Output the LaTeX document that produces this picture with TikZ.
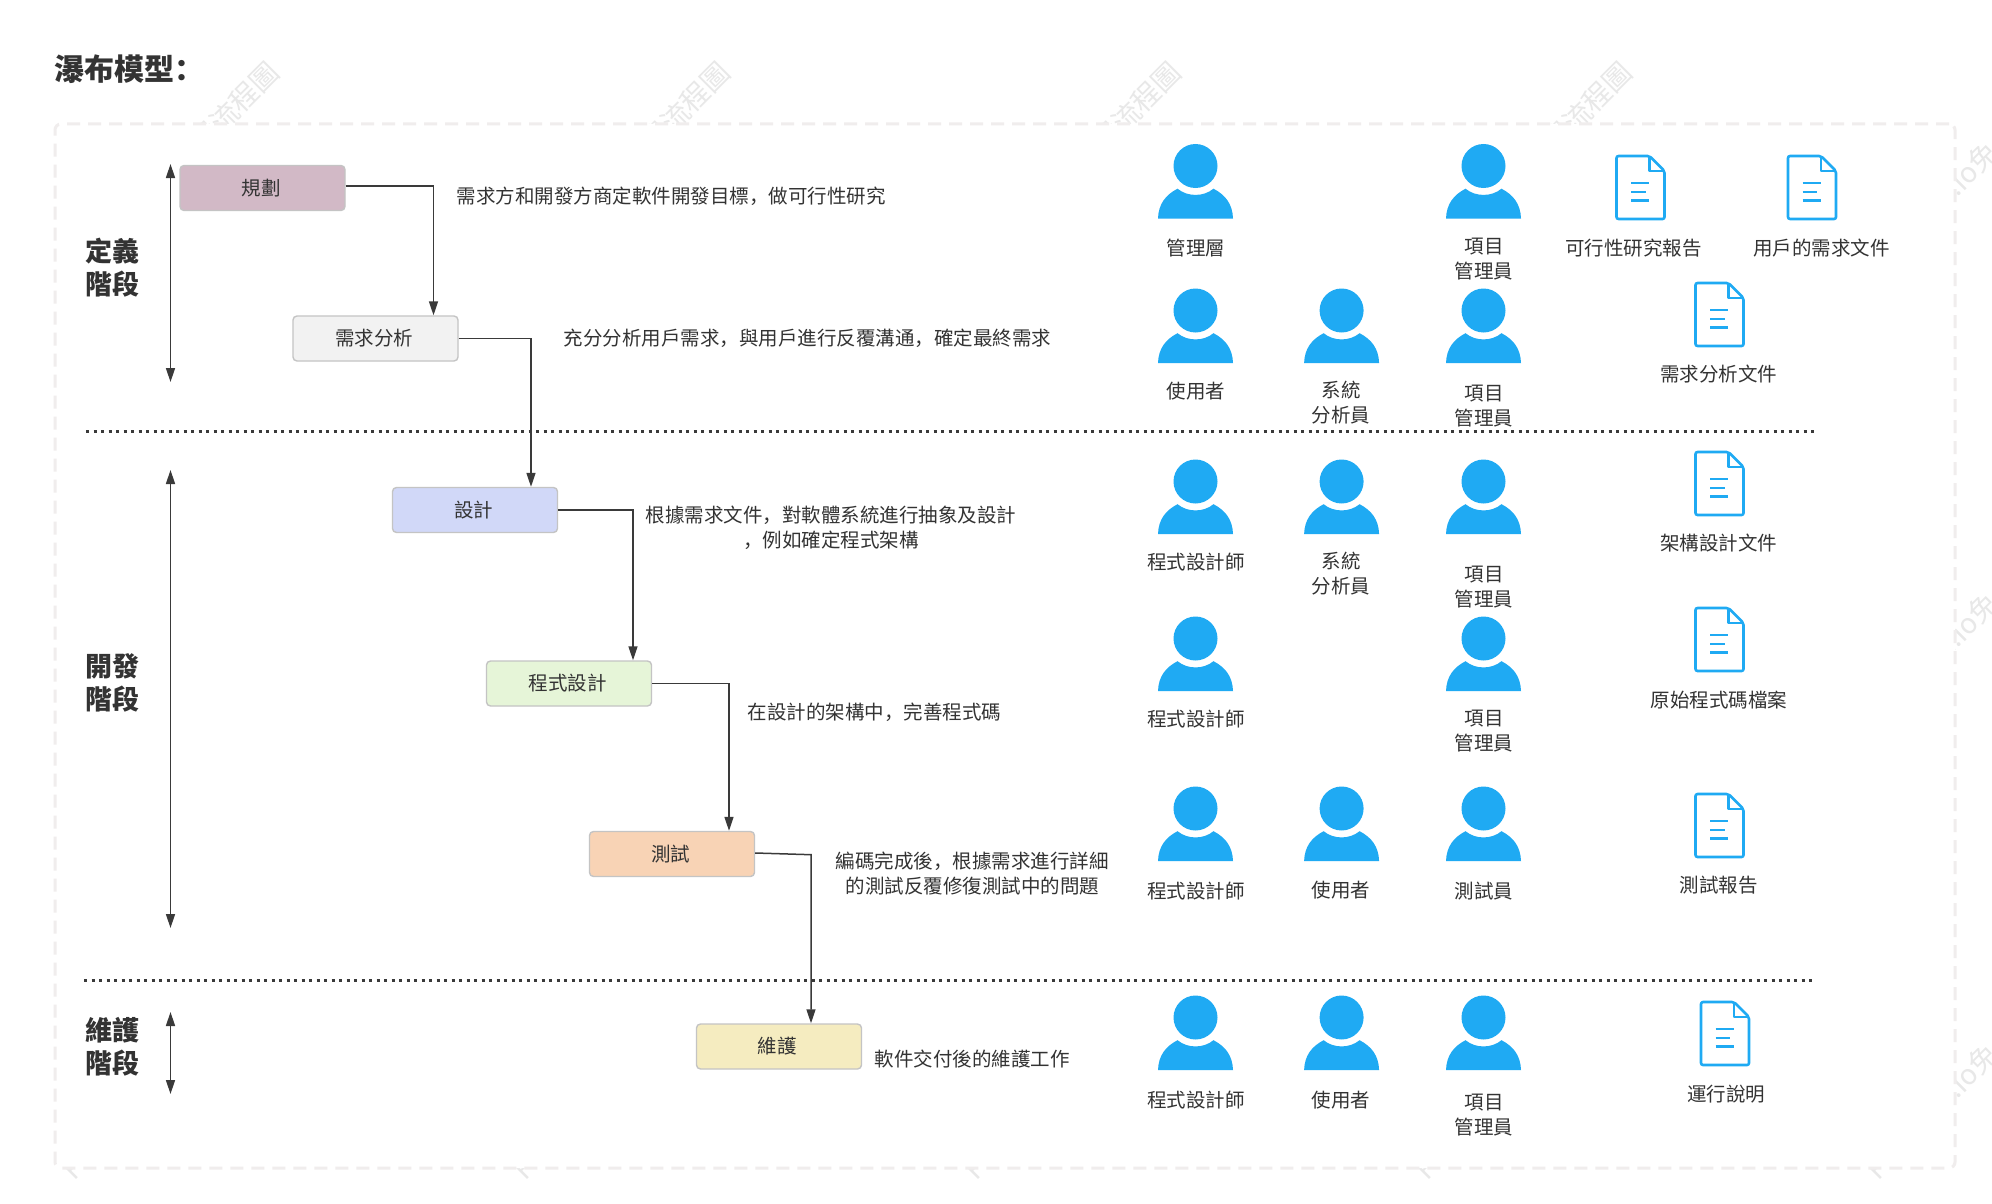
\documentclass[tikz,border=0pt]{standalone}
\usepackage{fontspec}
\setmainfont{Noto Sans CJK SC}
\usetikzlibrary{arrows.meta}
\definecolor{ink}{HTML}{333333}
\definecolor{lineink}{HTML}{3A3A3A}
\definecolor{iconblue}{HTML}{1FAAF3}
\definecolor{framegrey}{HTML}{F0EDED}
\definecolor{markgrey}{HTML}{E8E8E8}
\definecolor{boxedge}{HTML}{C4C4C4}
\definecolor{cplan}{HTML}{D2B9C6}
\definecolor{creq}{HTML}{F2F2F2}
\definecolor{cdsg}{HTML}{D1D8F8}
\definecolor{ccode}{HTML}{E6F5D8}
\definecolor{ctest}{HTML}{F8D3B5}
\definecolor{cmaint}{HTML}{F5ECC0}
\tikzset{
  stagebox/.style={draw=boxedge,line width=1.4pt,rounded corners=4pt,minimum width=165pt,minimum height=45pt,inner sep=0pt,text=ink,font=\fontsize{19.5}{24}\selectfont},
  conn/.style={draw=lineink,line width=1.5pt,-{Triangle[length=14pt,width=9pt]}},
  spanline/.style={draw=lineink,line width=1.5pt,{Triangle[length=14pt,width=9pt]}-{Triangle[length=14pt,width=9pt]}},
  divider/.style={draw=lineink,line width=3pt,dash pattern=on 3pt off 4.5pt},
  lab/.style={text=ink,align=center,inner sep=0pt,font=\fontsize{19.5}{25}\selectfont},
  stagelab/.style={text=ink,align=center,inner sep=0pt,font=\fontsize{27}{33.5}\selectfont\bfseries},
  wmark/.style={text=markgrey,inner sep=0pt,rotate=45,font=\fontsize{28}{28}\selectfont},
  person/.pic={
    \fill[iconblue] (0,22) circle (22pt);
    \fill[iconblue] (-37.5,74.5) .. controls (-37,60) and (-30,51) .. (-18,44.7)
      .. controls (-8,53) and (8,53) .. (18,44.7)
      .. controls (30,51) and (37,60) .. (37.5,74.5) -- cycle;
  },
  docicon/.pic={
    \draw[iconblue,line width=2.6pt,rounded corners=2pt,line join=round] (-24,0) -- (9,0) -- (24,15) -- (24,63) -- (-24,63) -- cycle;
    \draw[iconblue,line width=2.4pt,line join=round] (9,0) -- (9,15) -- (24,15);
    \draw[iconblue,line width=2.4pt] (-9.5,27) -- (8.5,27) (-9.5,36) -- (5,36) (-9.5,44.5) -- (8.5,44.5);
  }
}
\begin{document}
\begin{tikzpicture}[x=1pt,y=-1pt]
\useasboundingbox (0,0) rectangle (1992,1204);
\fill[white] (0,0) rectangle (1992,1204);

% watermarks: only their parts outside the frame show
\foreach \i/\x in {1/274,2/725,3/1176,4/1627}
  \node[wmark,anchor=east] (top\i) at (\x,67) {免費流程圖};
\foreach \i/\y in {1/147,2/598,3/1049}
  \node[wmark,anchor=east] (side\i) at (1993,\y) {i.io免};
\foreach \i/\x in {1/74,2/525,3/976,4/1427,5/1878}
  \node[wmark,anchor=south west] (low\i) at (\x,1182) {F};

% frame
\node[draw=framegrey,fill=white,line width=3pt,dash pattern=on 13pt off 8pt,rounded corners=6pt,minimum width=1900pt,minimum height=1044pt,inner sep=0pt] (frame) at (1005,646) {};

% title
\node[text=ink,anchor=west,inner sep=0pt,font=\fontsize{30}{30}\selectfont\bfseries] (title) at (54.5,69) {瀑布模型：};

% stage labels
\node[stagelab] (defstage) at (112.5,267.5) {定義\\階段};
\node[stagelab] (devstage) at (112.5,683) {開發\\階段};
\node[stagelab] (mntstage) at (112.5,1046.5) {維護\\階段};

% dividers
\coordinate (d1a) at (86,431); \coordinate (d1b) at (1815,431);
\coordinate (d2a) at (84,980); \coordinate (d2b) at (1813,980);
\draw[divider] (d1a) -- (d1b);
\draw[divider] (d2a) -- (d2b);

% phase spans
\coordinate (s1a) at (170.5,164); \coordinate (s1b) at (170.5,382);
\coordinate (s2a) at (170.5,470); \coordinate (s2b) at (170.5,928);
\coordinate (s3a) at (170.5,1012); \coordinate (s3b) at (170.5,1094);
\draw[spanline] (s1a) -- (s1b);
\draw[spanline] (s2a) -- (s2b);
\draw[spanline] (s3a) -- (s3b);

% stages
\node[stagebox,fill=cplan] (plan) at (262.5,188) {規劃\kern3pt};
\node[stagebox,fill=creq] (req) at (375.5,338.5) {需求分析\kern3pt};
\node[stagebox,fill=cdsg] (dsg) at (475,510) {設計\kern3pt};
\node[stagebox,fill=ccode] (code) at (569,683.5) {程式設計\kern3pt};
\node[stagebox,fill=ctest] (test) at (672,854) {測試\kern3pt};
\node[stagebox,fill=cmaint] (maint) at (779,1046.5) {\raisebox{-1.5pt}{維護}\kern4pt};

% connectors
\coordinate (bend5) at ([xshift=32pt]maint.north |- test.south);
\draw[conn] ([yshift=2pt]plan.east) -| ([xshift=58pt]req.north);
\draw[conn] (req.east) -| ([xshift=56pt]dsg.north);
\draw[conn] (dsg.east) -| ([xshift=64pt]code.north);
\draw[conn] (code.east) -| ([xshift=57pt]test.north);
\draw[conn] ([yshift=1pt]test.east) -- ([yshift=22.5pt]bend5) -- ([xshift=32pt]maint.north);

% descriptions
\node[lab] (t1) at (671,196) {需求方和開發方商定軟件開發目標，做可行性研究};
\node[lab] (t2) at (807.5,338) {充分分析用戶需求，與用戶進行反覆溝通，確定最終需求};
\node[lab] (t3) at (831,527.5) {根據需求文件，對軟體系統進行抽象及設計\\，例如確定程式架構};
\node[lab] (t4) at (874.5,712.7) {在設計的架構中，完善程式碼};
\node[lab] (t5) at (972.3,873.4) {編碼完成後，根據需求進行詳細\\的測試反覆修復測試中的問題};
\node[lab] (t6) at (972.3,1059.5) {軟件交付後的維護工作};

% people
\foreach \x/\y in {1195.5/144,1483.5/144,1195.5/288.5,1341.6/288.5,1483.5/288.5,1195.5/459.5,1341.6/459.5,1483.5/459.5,1195.5/616.5,1483.5/616.5,1195.5/786.5,1341.6/786.5,1483.5/786.5,1195.5/995.5,1341.6/995.5,1483.5/995.5}
  \pic at (\x,\y) {person};

\node[lab] (p1) at (1196,247.7) {管理層};
\node[lab] (p2) at (1484,259) {項目\\管理員};
\node[lab] (p3) at (1196,391.3) {使用者};
\node[lab] (p4) at (1341,402.7) {系統\\分析員};
\node[lab] (p5) at (1484,406.5) {項目\\管理員};
\node[lab] (p6) at (1196,562) {程式設計師};
\node[lab] (p7) at (1341,574) {系統\\分析員};
\node[lab] (p8) at (1484,587) {項目\\管理員};
\node[lab] (p9) at (1196,719) {程式設計師};
\node[lab] (p10) at (1484,731.5) {項目\\管理員};
\node[lab] (p11) at (1196,890.6) {程式設計師};
\node[lab] (p12) at (1341,890.6) {使用者};
\node[lab] (p13) at (1484,890.6) {測試員};
\node[lab] (p14) at (1196,1100) {程式設計師};
\node[lab] (p15) at (1341,1100) {使用者};
\node[lab] (p16) at (1484,1115.5) {項目\\管理員};

% documents
\foreach \x/\y in {1640.5/156,1812/156,1719.5/283,1719.5/452,1719.5/608,1719.5/794,1725/1002}
  \pic at (\x,\y) {docicon};

\node[lab] (f1) at (1633.5,247.7) {可行性研究報告};
\node[lab] (f2) at (1821.5,247.7) {用戶的需求文件};
\node[lab] (f3) at (1718.8,374.5) {需求分析文件};
\node[lab] (f4) at (1718.8,543.5) {架構設計文件};
\node[lab] (f5) at (1718.8,700) {原始程式碼檔案};
\node[lab] (f6) at (1718.8,885.5) {測試報告};
\node[lab] (f7) at (1726,1094) {運行說明};
\end{tikzpicture}
\end{document}
